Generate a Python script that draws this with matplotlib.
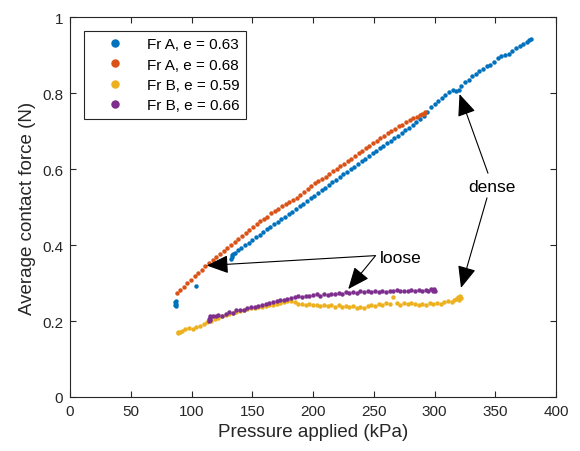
import numpy as np
import matplotlib
matplotlib.use('Agg')
import matplotlib.pyplot as plt

plt.rcParams['font.family'] = ['Liberation Sans', 'DejaVu Sans']

# (pressure kPa, average contact force N)
frA_063 = np.array([
    (86.5, 0.242), (86.8, 0.249), (87.0, 0.244), (87.2, 0.252), (87.5, 0.240), (103.7, 0.293),
    (132.6, 0.364), (133.0, 0.369), (133.4, 0.373), (134.0, 0.377), (135.5, 0.380), (138, 0.386),
    (141, 0.392), (144, 0.399), (147, 0.405), (150, 0.413), (153, 0.420), (156, 0.427),
    (159, 0.434), (162, 0.441), (165, 0.448), (168, 0.455), (171, 0.461), (174, 0.469),
    (177, 0.475), (180, 0.482), (183, 0.488), (186, 0.496), (189, 0.502), (192, 0.509),
    (195, 0.516), (198, 0.524), (201, 0.530), (204, 0.538), (207, 0.545), (210, 0.551),
    (213, 0.558), (216, 0.566), (219, 0.572), (222, 0.579), (225, 0.586), (228, 0.592),
    (231, 0.600), (234, 0.606), (237, 0.614), (240, 0.620), (243, 0.627), (246, 0.634),
    (249, 0.641), (252, 0.647), (255, 0.654), (258, 0.661), (261, 0.668), (264, 0.675),
    (267, 0.681), (270, 0.688), (273, 0.695), (276, 0.702), (279, 0.709), (282, 0.716),
    (285, 0.724), (288, 0.731), (291, 0.740), (294, 0.751), (297, 0.762), (300, 0.771),
    (303, 0.779), (306, 0.786), (309, 0.796), (312, 0.803), (315, 0.807), (318, 0.805),
    (320, 0.809), (322, 0.818), (325, 0.829), (328, 0.835), (331, 0.844), (334, 0.851),
    (337, 0.858), (340, 0.864), (343, 0.871), (346, 0.874), (349, 0.881), (352, 0.892),
    (355, 0.898), (358, 0.901), (361, 0.903), (364, 0.911), (367, 0.919), (370, 0.924),
    (373, 0.929), (376, 0.935), (378, 0.939), (379.5, 0.942),
])

frA_068 = np.array([
    (87.8, 0.274), (90.5, 0.282), (93.5, 0.290), (96.5, 0.299), (99.5, 0.309), (102.5, 0.318),
    (105.5, 0.326), (108.5, 0.335), (111.5, 0.344), (114.5, 0.352), (117.5, 0.360), (120.5, 0.369),
    (123.5, 0.377), (126.5, 0.385), (129.5, 0.393), (132.5, 0.401), (135.5, 0.409), (138.5, 0.417),
    (141.5, 0.425), (144.5, 0.432), (147.5, 0.440), (150.5, 0.448), (153.5, 0.455), (156.5, 0.462),
    (159.5, 0.469), (162.5, 0.475), (165.5, 0.483), (168.5, 0.489), (171.5, 0.496), (174.5, 0.503),
    (177.5, 0.508), (180.5, 0.513), (183.5, 0.519), (186.5, 0.524), (189.5, 0.531), (192.5, 0.539),
    (195.5, 0.548), (198.5, 0.556), (201.5, 0.562), (204.5, 0.568), (207.5, 0.574), (210.5, 0.580),
    (213.5, 0.587), (216.5, 0.594), (219.5, 0.601), (222.5, 0.608), (225.5, 0.614), (228.5, 0.620),
    (231.5, 0.627), (234.5, 0.634), (237.5, 0.642), (240.5, 0.648), (243.5, 0.654), (246.5, 0.661),
    (249.5, 0.668), (252.5, 0.675), (255.5, 0.681), (258.5, 0.687), (261.5, 0.694), (264.5, 0.700),
    (267.5, 0.706), (270.5, 0.712), (273.5, 0.717), (276.5, 0.723), (279.5, 0.728), (282.5, 0.733),
    (285.5, 0.738), (288.0, 0.742), (290.0, 0.746), (291.5, 0.744), (292.0, 0.750),
])

frB_059 = np.array([
    (88.5, 0.168), (89.3, 0.172), (90.2, 0.170), (92, 0.174), (95, 0.178), (98, 0.182),
    (101, 0.180), (104, 0.184), (107, 0.188), (110, 0.193), (113, 0.197), (116, 0.201),
    (119, 0.205), (122, 0.209), (125, 0.212), (128, 0.215), (131, 0.218), (134, 0.221),
    (137, 0.224), (140, 0.226), (143, 0.229), (146, 0.231), (149, 0.233), (152, 0.235),
    (155, 0.236), (158, 0.238), (161, 0.240), (164, 0.242), (167, 0.243), (170, 0.245),
    (173, 0.247), (176, 0.250), (179, 0.252), (182, 0.253), (185, 0.249), (188, 0.246),
    (191, 0.245), (194, 0.243), (197, 0.244), (200, 0.241), (203, 0.243), (206, 0.240),
    (209, 0.242), (212, 0.239), (215, 0.241), (218, 0.238), (221, 0.242), (224, 0.237),
    (227, 0.240), (230, 0.236), (233, 0.239), (236, 0.235), (239, 0.238), (242, 0.234),
    (245, 0.240), (248, 0.243), (251, 0.240), (254, 0.245), (257, 0.242), (260, 0.247),
    (263, 0.244), (266, 0.262), (269, 0.248), (272, 0.243), (275, 0.247), (278, 0.244),
    (281, 0.248), (284, 0.245), (287, 0.242), (290, 0.246), (293, 0.243), (296, 0.247),
    (299, 0.244), (302, 0.248), (305, 0.245), (308, 0.250), (311, 0.252), (314, 0.251),
    (316, 0.255), (318, 0.258), (319, 0.262), (320, 0.256), (321, 0.265), (322, 0.260),
])

frB_066 = np.array([
    (114.6, 0.200), (114.8, 0.206), (115.0, 0.212), (115.2, 0.203), (115.4, 0.209), (117.5, 0.213),
    (120, 0.212), (121.5, 0.216), (125, 0.214), (128, 0.219), (131, 0.223), (134, 0.222),
    (137, 0.228), (140, 0.230), (143, 0.229), (146, 0.234), (149, 0.237), (152, 0.236),
    (155, 0.240), (158, 0.243), (161, 0.244), (164, 0.248), (167, 0.250), (170, 0.252),
    (173, 0.255), (176, 0.256), (179, 0.258), (182, 0.261), (185, 0.263), (188, 0.266),
    (191, 0.264), (194, 0.267), (197, 0.265), (200, 0.268), (203, 0.270), (206, 0.267),
    (209, 0.271), (212, 0.269), (215, 0.272), (218, 0.270), (221, 0.274), (224, 0.272),
    (227, 0.276), (230, 0.274), (233, 0.277), (236, 0.275), (239, 0.278), (242, 0.276),
    (245, 0.279), (248, 0.277), (251, 0.278), (254, 0.276), (257, 0.279), (260, 0.277),
    (263, 0.280), (266, 0.278), (269, 0.281), (272, 0.279), (275, 0.280), (278, 0.278),
    (281, 0.281), (284, 0.279), (287, 0.282), (290, 0.280), (293, 0.282), (295, 0.279),
    (297, 0.283), (298.5, 0.280), (299.5, 0.284), (300, 0.278),
])

series = [
    (frA_063, 'Fr A, e = 0.63', '#0072BD'),
    (frA_068, 'Fr A, e = 0.68', '#D95319'),
    (frB_059, 'Fr B, e = 0.59', '#EDB120'),
    (frB_066, 'Fr B, e = 0.66', '#7E2F8E'),
]

fig = plt.figure(figsize=(5.8, 4.52), dpi=100)
ax = fig.add_axes([70 / 580, 1 - 398 / 452, 486 / 580, 380 / 452])

for pts, lab, col in series:
    ax.plot(pts[:, 0], pts[:, 1], linestyle='none', marker='o', markersize=3.2,
            markeredgewidth=0, color=col, label=lab)

ax.set_xlim(0, 400)
ax.set_ylim(0, 1)
ax.set_xticks(np.arange(0, 401, 50))
ax.set_yticks([0, 0.2, 0.4, 0.6, 0.8, 1])
ax.set_yticklabels(['0', '0.2', '0.4', '0.6', '0.8', '1'])
ax.tick_params(direction='in', length=4, width=0.8, top=True, right=True,
               labelsize=11, colors='#262626', pad=5)
for sp in ax.spines.values():
    sp.set_color('#262626')
    sp.set_linewidth(0.8)

ax.set_xlabel('Pressure applied (kPa)', fontsize=13.5, color='#262626')
ax.set_ylabel('Average contact force (N)', fontsize=13.5, color='#262626')

leg = ax.legend(loc='upper left', bbox_to_anchor=(0.029, 0.963), borderaxespad=0,
                fontsize=11, markerscale=1.9, handlelength=3.3, handletextpad=0.45,
                labelspacing=0.42, fancybox=False, framealpha=1, edgecolor='#262626')
leg.get_frame().set_linewidth(0.8)

arrow = dict(arrowstyle='-|>,head_length=0.9,head_width=0.38', color='black',
             lw=0.8, shrinkA=0, shrinkB=0, mutation_scale=15)

ax.text(347, 0.555, 'dense', fontsize=12.5, ha='center', va='center')
ax.annotate('', xy=(320.6, 0.797), xytext=(344, 0.589), arrowprops=arrow)
ax.annotate('', xy=(321.8, 0.287), xytext=(343.2, 0.524), arrowprops=arrow)

ax.text(272.4, 0.366, 'loose', fontsize=12.5, ha='center', va='center')
ax.annotate('', xy=(112.5, 0.346), xytext=(251, 0.372), arrowprops=arrow)
ax.annotate('', xy=(229, 0.284), xytext=(251.5, 0.372), arrowprops=arrow)

fig.savefig('out.png', dpi=100)
